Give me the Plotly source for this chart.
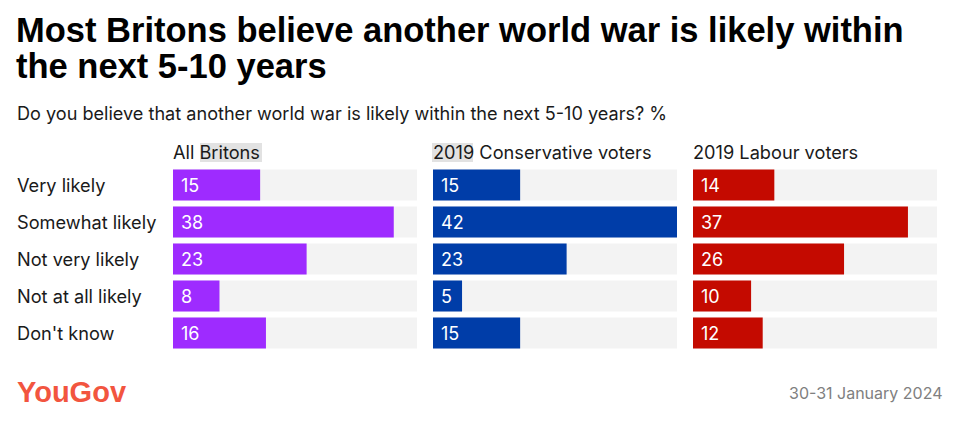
import plotly.graph_objects as go

categories = ["Very likely", "Somewhat likely", "Not very likely", "Not at all likely", "Don't know"]
groups = ["All Britons", "2019 Conservative voters", "2019 Labour voters"]
all_britons = [15, 38, 23, 8, 16]
conservative = [15, 42, 23, 5, 15]
labour = [14, 37, 26, 10, 12]
series = [all_britons, conservative, labour]
colors = ["#9E2BFF", "#003DA8", "#C40A00"]
track_max = 42

# page body has an 8px margin; figure placed at (8, 8)
OFF = 8
W, H = 960 - OFF, 424 - OFF
def px(x): return (x - OFF) / W
def py(y): return 1 - (y - OFF) / H

FONT = "Inter"
fig = go.Figure()
panels = [(173, 417), (433, 677), (693, 937)]
ydom = [py(351.5), py(166.5)]

annotations = []
for i, (vals, col, (x0, x1), g) in enumerate(zip(series, colors, panels, groups)):
    xa = "x" if i == 0 else f"x{i+1}"
    ya = "y" if i == 0 else f"y{i+1}"
    fig.add_trace(go.Bar(x=[track_max] * len(categories), y=categories, orientation="h",
                         marker=dict(color="#F3F3F3", line=dict(width=0)), width=0.84,
                         xaxis=xa, yaxis=ya, hoverinfo="skip", showlegend=False))
    fig.add_trace(go.Bar(x=vals, y=categories, orientation="h",
                         marker=dict(color=col, line=dict(width=0)), width=0.84,
                         xaxis=xa, yaxis=ya, showlegend=False))
    lay_x = "xaxis" if i == 0 else f"xaxis{i+1}"
    lay_y = "yaxis" if i == 0 else f"yaxis{i+1}"
    fig.layout[lay_x] = dict(domain=[px(x0), px(x1)], range=[0, track_max], visible=False,
                             anchor=ya, fixedrange=True)
    fig.layout[lay_y] = dict(domain=ydom, range=[len(categories) - 0.5, -0.5], visible=False,
                             anchor=xa, fixedrange=True, type="category",
                             categoryorder="array", categoryarray=categories)
    for c, v in zip(categories, vals):
        annotations.append(dict(x=0, y=c, xref=xa, yref=ya, text=str(v), showarrow=False,
                                xanchor="left", yanchor="middle", xshift=6,
                                font=dict(family=FONT, size=18, color="white")))
    annotations.append(dict(x=px(x0) - 2 / W, y=py(152.5), xref="paper", yref="paper", text=g,
                            showarrow=False, xanchor="left", yanchor="middle",
                            font=dict(family=FONT, size=18.2, color="#1a1a1a")))

for c in categories:
    annotations.append(dict(x=px(15), y=c, xref="paper", yref="y", text=c, showarrow=False,
                            xanchor="left", yanchor="middle",
                            font=dict(family=FONT, size=18.2, color="#1a1a1a")))

TFONT = "Liberation Sans"
annotations += [
    dict(x=px(14), y=py(30), xref="paper", yref="paper", showarrow=False,
         xanchor="left", yanchor="middle",
         text="<b>Most Britons believe another world war is likely within</b>",
         font=dict(family=TFONT, size=34.5, color="#000000")),
    dict(x=px(14), y=py(66), xref="paper", yref="paper", showarrow=False,
         xanchor="left", yanchor="middle",
         text="<b>the next 5-10 years</b>",
         font=dict(family=TFONT, size=34.5, color="#000000")),
    dict(x=px(15), y=py(113), xref="paper", yref="paper", showarrow=False,
         xanchor="left", yanchor="middle",
         text="Do you believe that another world war is likely within the next 5-10 years? %",
         font=dict(family=FONT, size=18.1, color="#1a1a1a")),
    dict(x=px(15), y=py(392), xref="paper", yref="paper", showarrow=False,
         xanchor="left", yanchor="middle", text="<b>YouGov</b>",
         font=dict(family=TFONT, size=29, color="#F2553F")),
    dict(x=px(945), y=py(393), xref="paper", yref="paper", showarrow=False,
         xanchor="right", yanchor="middle", text="30-31 January 2024",
         font=dict(family=FONT, size=16, color="#808080")),
]

shapes = [
    dict(type="rect", xref="paper", yref="paper", x0=px(200), x1=px(262), y0=py(162), y1=py(143),
         fillcolor="#E2E2E2", line=dict(width=0), layer="below"),
    dict(type="rect", xref="paper", yref="paper", x0=px(432), x1=px(473), y0=py(162), y1=py(143),
         fillcolor="#E2E2E2", line=dict(width=0), layer="below"),
]

fig.update_layout(width=W, height=H, margin=dict(l=0, r=0, t=0, b=0),
                  paper_bgcolor="white", plot_bgcolor="white", barmode="overlay",
                  annotations=annotations, shapes=shapes, bargap=0.16)
fig.write_html("out.html")
